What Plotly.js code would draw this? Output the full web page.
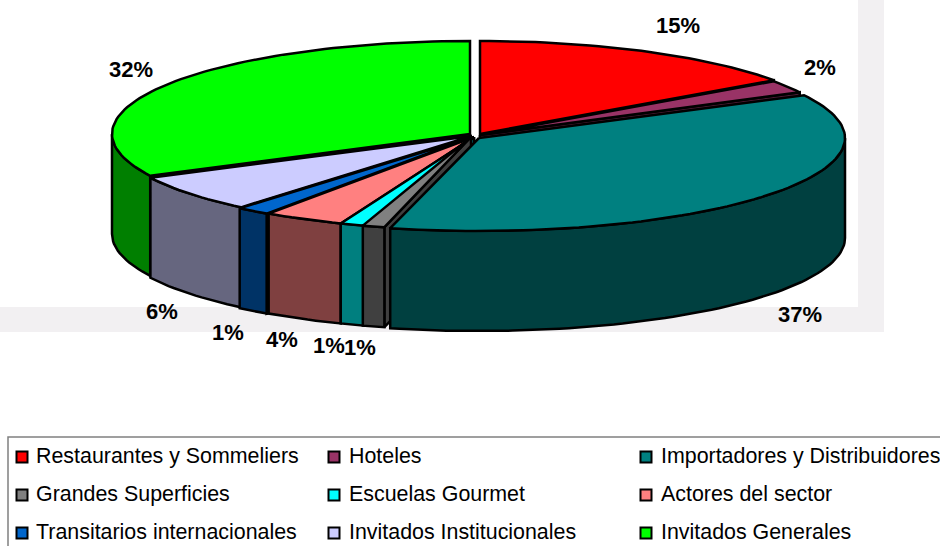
<!DOCTYPE html>
<html><head><meta charset="utf-8">
<script src="https://cdn.plot.ly/plotly-3.0.1.min.js"></script>
<style>html,body{margin:0;padding:0;background:#fff}#c{width:940px;height:546px}</style>
</head><body><div id="c"></div><script>
// ---- data ----
const categories = ["Restaurantes y Sommeliers","Hoteles","Importadores y Distribuidores","Grandes Superficies","Escuelas Gourmet","Actores del sector","Transitarios internacionales","Invitados Institucionales","Invitados Generales"];
const shares = [15.2,2.2,36.5,1.0,1.1,3.6,1.49,6.49,32.42];
const colors = ["#ff0000","#993366","#008080","#808080","#00ffff","#ff8080","#0066cc","#ccccff","#00ff00"];
// ---- layout of the drawing (pixels on the hidden axes) ----
const sliceDx = [4,4,3,-5,-2,-2,-4,-4,-6];
const sliceDy = [-1,0,3,2,2,2,2,1,-1];
const radiusX = [360,360,366,357,362,362,362,360,358];
const labelX = [678,820,800,329,360,282,228,162,131];
const labelY = [27,69,316,347,349,341,334,313,71];
const legendMarkerX = [22,334,646], legendTextX = [36,349,661], legendY = [457,495,533];
const cx=476, cy=135, ry=93, depth=100;

const total = shares.reduce((a,b)=>a+b,0);
let acc=0;
const slices = shares.map((v,i)=>{const s=acc/total*360; acc+=v; return {i,s,e:acc/total*360};});
const half = c=>{const n=parseInt(c.slice(1),16);return `rgb(${(n>>16)>>1},${((n>>8)&255)>>1},${(n&255)>>1})`;};
const pt=(sl,t,dz=0)=>{const r=t*Math.PI/180;return [cx+sliceDx[sl.i]+radiusX[sl.i]*Math.sin(r), cy+sliceDy[sl.i]-ry*Math.cos(r)+dz];};
const apex=(sl,dz=0)=>[cx+sliceDx[sl.i],cy+sliceDy[sl.i]+dz];
const arc=(sl,a,b,dz=0)=>{const o=[];const n=Math.max(2,Math.ceil((b-a)/1.5));for(let k=0;k<=n;k++)o.push(pt(sl,a+(b-a)*k/n,dz));return o;};
const poly=(pts,fill)=>({type:'scatter',mode:'lines',x:pts.map(p=>p[0]).concat(pts[0][0]),y:pts.map(p=>p[1]).concat(pts[0][1]),fill:'toself',fillcolor:fill,line:{color:'#000',width:2.5,shape:'linear'},hoverinfo:'skip',showlegend:false});

// back-to-front: the slice holding the front of the pie is drawn last
const front = sl=> (sl.s<=180&&sl.e>=180)?1000:-Math.abs((sl.s+sl.e)/2-180);
const order = slices.slice().sort((a,b)=>front(a)-front(b));
const traces=[];
order.forEach(sl=>{
  const dark=half(colors[sl.i]);
  if(sl.e<180) traces.push(poly([apex(sl),pt(sl,sl.e),pt(sl,sl.e,depth),apex(sl,depth)],dark));
  if(sl.s>180) traces.push(poly([apex(sl),pt(sl,sl.s),pt(sl,sl.s,depth),apex(sl,depth)],dark));
  const a=Math.max(sl.s,90), b=Math.min(sl.e,270);
  if(b>a) traces.push(poly(arc(sl,a,b).concat(arc(sl,a,b,depth).reverse()),dark));
  traces.push(poly([apex(sl)].concat(arc(sl,sl.s,sl.e)),colors[sl.i]));
});
// percent labels
traces.push({type:'scatter',mode:'text',x:labelX,y:labelY,
  text:shares.map(v=>Math.round(v/total*100)+'%'),textposition:'middle center',cliponaxis:false,
  textfont:{family:'Liberation Sans, Arial, sans-serif',size:22,color:'#000',weight:'bold'},hoverinfo:'skip',showlegend:false});
// legend
const col=i=>i%3, row=i=>Math.floor(i/3);
traces.push({type:'scatter',mode:'markers',x:categories.map((_,i)=>legendMarkerX[col(i)]),y:categories.map((_,i)=>legendY[row(i)]),
  marker:{symbol:'square',size:11,color:colors,line:{color:'#000',width:2}},hoverinfo:'skip',showlegend:false,cliponaxis:false});
traces.push({type:'scatter',mode:'text',x:categories.map((_,i)=>legendTextX[col(i)]),y:categories.map((_,i)=>legendY[row(i)]+1),text:categories,
  textposition:'middle right',textfont:{family:'Liberation Sans, Arial, sans-serif',size:21.4,color:'#000'},hoverinfo:'skip',showlegend:false,cliponaxis:false});

const band='#f2f0f2';
const layout={width:940,height:546,margin:{l:0,r:0,t:0,b:0},paper_bgcolor:'#fff',plot_bgcolor:'#fff',showlegend:false,
  xaxis:{range:[0,940],visible:false,fixedrange:true},yaxis:{range:[546,0],visible:false,fixedrange:true},
  shapes:[
   {type:'rect',layer:'below',xref:'x',yref:'y',x0:858,x1:884,y0:0,y1:332,fillcolor:band,line:{width:0}},
   {type:'rect',layer:'below',xref:'x',yref:'y',x0:0,x1:884,y0:307,y1:332,fillcolor:band,line:{width:0}},
   {type:'rect',layer:'below',xref:'x',yref:'y',x0:8,x1:960,y0:437,y1:570,fillcolor:'#fff',line:{color:'#808080',width:1.5}}
  ]};
Plotly.newPlot('c',traces,layout,{staticPlot:true,displayModeBar:false});
</script></body></html>
